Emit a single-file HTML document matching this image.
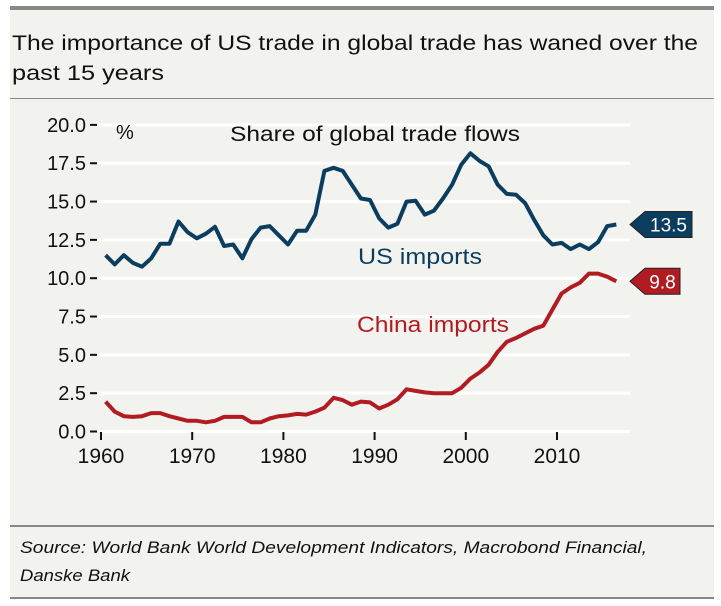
<!DOCTYPE html>
<html><head><meta charset="utf-8"><style>
html,body{margin:0;padding:0;background:#fff;}
svg{display:block;font-family:"Liberation Sans",sans-serif;}
</style></head><body>
<svg width="721" height="606" viewBox="0 0 721 606">
<rect x="10" y="8" width="704" height="590" fill="#f2f2ee"/>
<rect x="10" y="6" width="704" height="4" fill="#888"/>
<rect x="10" y="98" width="704" height="1" fill="#888"/>
<rect x="10" y="525" width="704" height="2" fill="#888"/>
<rect x="10" y="597" width="704" height="2" fill="#888"/>
<text x="12" y="50" font-size="21" fill="#111" textLength="686" lengthAdjust="spacingAndGlyphs">The importance of US trade in global trade has waned over the</text>
<text x="12" y="80" font-size="21" fill="#111" textLength="152" lengthAdjust="spacingAndGlyphs">past 15 years</text>
<g id="grid"></g>
<g id="axes"></g>
<text x="116" y="139" font-size="20" fill="#111">%</text>
<text x="230" y="141" font-size="21" fill="#111" textLength="290" lengthAdjust="spacingAndGlyphs">Share of global trade flows</text>
<g id="series"></g>
<text x="358" y="264" font-size="22" fill="#0b3d5e" textLength="124" lengthAdjust="spacingAndGlyphs">US imports</text>
<text x="357" y="332" font-size="22" fill="#b01c22" textLength="152" lengthAdjust="spacingAndGlyphs">China imports</text>
<g id="tags"></g>
<text x="20" y="553" font-size="17" font-style="italic" fill="#111" textLength="627" lengthAdjust="spacingAndGlyphs">Source: World Bank World Development Indicators, Macrobond Financial,</text>
<text x="20" y="581" font-size="17" font-style="italic" fill="#111" textLength="110" lengthAdjust="spacingAndGlyphs">Danske Bank</text>
</svg>
<script>
const years = [];
for (let y = 1960; y <= 2016; y++) years.push(y);
const usImports = [11.5,10.9,11.5,11.0,10.75,11.3,12.25,12.25,13.7,13.0,12.6,12.9,13.35,12.1,12.2,11.3,12.55,13.3,13.4,12.8,12.2,13.1,13.1,14.15,17.0,17.2,17.0,16.1,15.2,15.1,13.9,13.3,13.55,15.0,15.05,14.15,14.4,15.2,16.1,17.4,18.15,17.65,17.3,16.1,15.5,15.45,14.9,13.8,12.8,12.2,12.3,11.9,12.2,11.9,12.35,13.4,13.5];
const chinaImports = [1.95,1.3,1.0,0.95,1.0,1.2,1.2,1.0,0.85,0.7,0.7,0.6,0.7,0.95,0.95,0.95,0.6,0.6,0.85,1.0,1.05,1.15,1.1,1.3,1.55,2.2,2.05,1.75,1.95,1.9,1.5,1.75,2.1,2.75,2.65,2.55,2.5,2.5,2.5,2.85,3.45,3.85,4.35,5.2,5.85,6.1,6.4,6.7,6.9,7.95,9.0,9.4,9.7,10.3,10.3,10.1,9.8];
const yTicks = [0,2.5,5,7.5,10,12.5,15,17.5,20];
const xTicks = [1960,1970,1980,1990,2000,2010];
const lastUS = 13.5, lastChina = 9.8;

const NS = "http://www.w3.org/2000/svg";
const xs = t => 101 + 9.12 * (t - 1960);
const ys = v => 431.5 - 15.33 * v;
function mk(tag, attrs, parent) {
  const e = document.createElementNS(NS, tag);
  for (const k in attrs) e.setAttribute(k, attrs[k]);
  document.getElementById(parent).appendChild(e);
  return e;
}
yTicks.forEach(v => {
  const g = mk('line', {x1: 98, x2: 630, y1: ys(v), y2: ys(v), stroke: '#fff', 'stroke-width': 3}, 'grid');
  
  
  const t = mk('text', {x: 86, y: ys(v) + 7, 'font-size': 20, 'text-anchor': 'end', fill: '#111'}, 'axes');
  t.textContent = v.toFixed(1);
  
  
  const d = mk('line', {x1: 90, x2: 97, y1: ys(v), y2: ys(v), stroke: '#111', 'stroke-width': 2}, 'axes');
  
  
});
xTicks.forEach(yr => {
  const l = mk('line', {x1: xs(yr), x2: xs(yr), y1: 432, y2: 440, stroke: '#111', 'stroke-width': 2}, 'axes');
  
  
  const t = mk('text', {x: xs(yr), y: 463, 'font-size': 21, 'text-anchor': 'middle', fill: '#111'}, 'axes');
  t.textContent = yr;
  
  
});
function line(vals, color, name) {
  const d = vals.map((v, i) => (i ? 'L' : 'M') + xs(years[i] + 0.5).toFixed(1) + ' ' + ys(v).toFixed(1)).join(' ');
  const p = mk('path', {d: d, fill: 'none', stroke: color, 'stroke-width': 4, 'stroke-linejoin': 'round'}, 'series');
  
  
}
line(usImports, '#0b3d5e', 'us-imports-line');
line(chinaImports, '#b01c22', 'china-imports-line');
function tag(v, color, w, name) {
  const y = ys(v);
  const p = mk('path', {d: `M630 ${y} L645 ${y-13} L${645+w} ${y-13} L${645+w} ${y+13} L645 ${y+13} Z`, fill: color, stroke: '#222', 'stroke-width': 1}, 'tags');
  
  
  const t = mk('text', {x: 645 + w / 2, y: y + 7, 'font-size': 19, 'text-anchor': 'middle', fill: '#fff'}, 'tags');
  t.textContent = v.toFixed(1);
  
  
}
tag(lastUS, '#0b3d5e', 47, 'us-imports');
tag(lastChina, '#b01c22', 35, 'china-imports');
</script>
</body></html>
